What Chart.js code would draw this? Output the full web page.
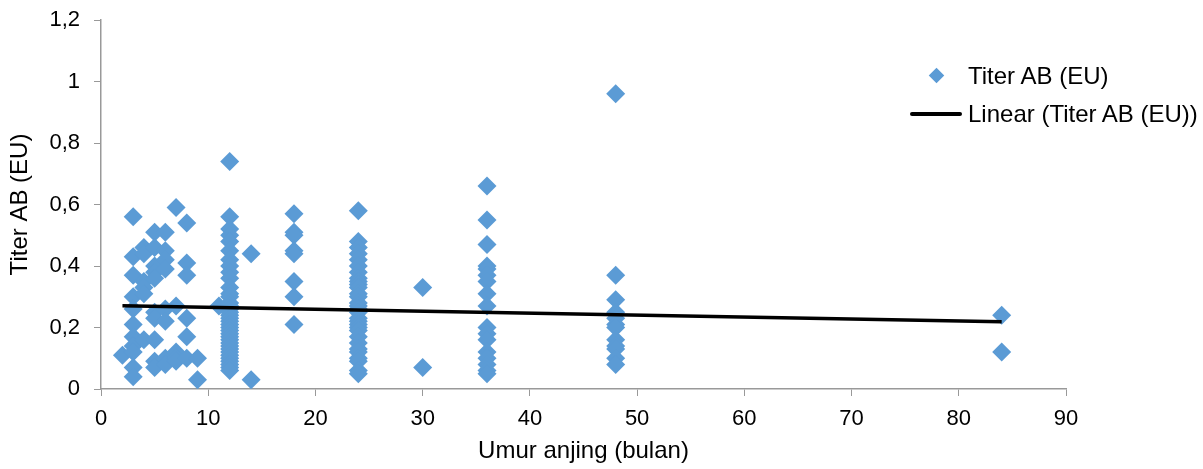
<!DOCTYPE html>
<html>
<head>
<meta charset="utf-8">
<script src="https://cdn.jsdelivr.net/npm/chart.js@4.4.1/dist/chart.umd.min.js"></script>
<style>
  html, body { margin: 0; padding: 0; background: #fff; }
  #wrap { position: relative; width: 1203px; height: 469px; }
  .legend { position: absolute; left: 905px; top: 57px; font-family: "Liberation Sans", Arial, sans-serif; font-size: 24px; color: #000; }
  .legend .row { position: relative; height: 38px; line-height: 38px; padding-left: 63px; white-space: nowrap; }
  .legend .diamond { position: absolute; left: 26px; top: 13px; width: 11px; height: 11px; background: #5B9BD5; transform: rotate(45deg); }
  .legend .line { position: absolute; left: 5px; top: 17px; width: 52px; height: 4px; background: #000; border-radius: 2px; }
</style>
</head>
<body>
<div id="wrap">
  <canvas id="titerChart" width="1203" height="469"></canvas>
  <div class="legend">
    <div class="row"><span class="diamond"></span>Titer AB (EU)</div>
    <div class="row"><span class="line"></span>Linear (Titer AB (EU))</div>
  </div>
</div>
<script>
// umur anjing (bulan) dan titer antibodi per kelompok umur
const ageGroups = [2, 3, 4, 5, 6, 7, 8, 9, 11, 12, 14, 18, 24, 30, 36, 48, 84];
const titerByAge = [
  [0.11],
  [0.56, 0.43, 0.37, 0.30, 0.26, 0.21, 0.17, 0.14, 0.12, 0.07, 0.04],
  [0.46, 0.44, 0.35, 0.33, 0.31, 0.16],
  [0.51, 0.46, 0.40, 0.38, 0.36, 0.25, 0.23, 0.16, 0.09, 0.07],
  [0.51, 0.45, 0.42, 0.39, 0.26, 0.22, 0.10, 0.08],
  [0.59, 0.27, 0.12, 0.10, 0.09],
  [0.54, 0.41, 0.37, 0.23, 0.17, 0.10],
  [0.10, 0.03],
  [0.27],
  [0.74, 0.56, 0.52, 0.50, 0.48, 0.45, 0.42, 0.40, 0.38, 0.36, 0.33, 0.31, 0.30, 0.28, 0.27, 0.26,
   0.25, 0.24, 0.23, 0.22, 0.21, 0.20, 0.19, 0.18, 0.17, 0.16, 0.15, 0.14, 0.13, 0.12, 0.11, 0.10,
   0.09, 0.08, 0.07, 0.06],
  [0.44, 0.03],
  [0.57, 0.51, 0.50, 0.45, 0.44, 0.35, 0.30, 0.21],
  [0.58, 0.48, 0.46, 0.44, 0.42, 0.40, 0.38, 0.36, 0.35, 0.34, 0.33, 0.31, 0.30, 0.28, 0.27, 0.26,
   0.25, 0.23, 0.22, 0.21, 0.20, 0.19, 0.17, 0.15, 0.13, 0.12, 0.10, 0.09, 0.06, 0.05],
  [0.33, 0.07],
  [0.66, 0.55, 0.47, 0.40, 0.39, 0.37, 0.35, 0.31, 0.27, 0.20, 0.18, 0.16, 0.12, 0.10, 0.08, 0.06, 0.05],
  [0.96, 0.37, 0.29, 0.25, 0.23, 0.21, 0.20, 0.16, 0.14, 0.13, 0.10, 0.08],
  [0.24, 0.12]
];
// garis tren linear
const trendAge = [2, 84];
const trendTiter = [0.271, 0.219];

const scatterPoints = [];
ageGroups.forEach((age, i) => {
  titerByAge[i].forEach(v => scatterPoints.push({ x: age, y: v }));
});
const trendPoints = trendAge.map((a, i) => ({ x: a, y: trendTiter[i] }));

const axisGray = '#999999';
const tickFont = { family: '"Liberation Sans", Arial, sans-serif', size: 22 };
const titleFont = { family: '"Liberation Sans", Arial, sans-serif', size: 24 };

const ctx = document.getElementById('titerChart').getContext('2d');
new Chart(ctx, {
  type: 'scatter',
  data: {
    datasets: [
      {
        label: 'Linear (Titer AB (EU))',
        type: 'line',
        data: trendPoints,
        borderColor: '#000',
        borderWidth: 3.5,
        pointRadius: 0,
        fill: false,
        order: 0
      },
      {
        label: 'Titer AB (EU)',
        data: scatterPoints,
        pointStyle: 'rectRot',
        pointRadius: 9.5,
        pointHoverRadius: 9.5,
        backgroundColor: '#5B9BD5',
        borderWidth: 0,
        order: 1
      }
    ]
  },
  options: {
    responsive: false,
    animation: false,
    events: [],
    layout: { padding: { top: 20, right: 137, bottom: 0, left: 0 } },
    plugins: { legend: { display: false }, tooltip: { enabled: false } },
    scales: {
      x: {
        type: 'linear',
        min: 0,
        max: 90,
        ticks: { stepSize: 10, color: '#000', font: tickFont, padding: 10, maxRotation: 0 },
        grid: { drawOnChartArea: false, drawTicks: true, tickLength: 7, color: axisGray },
        border: { display: true, color: axisGray, width: 1.5 },
        title: { display: true, text: 'Umur anjing (bulan)', color: '#000', font: titleFont, padding: { top: 0, bottom: 3 } },
        afterFit: s => { s.height = 80; s.paddingLeft = 0; s.paddingRight = 0; }
      },
      y: {
        min: 0,
        max: 1.2,
        ticks: {
          stepSize: 0.2,
          color: '#000',
          font: tickFont,
          padding: 14,
          callback: v => String(Number(v.toFixed(1))).replace('.', ',')
        },
        grid: { drawOnChartArea: false, drawTicks: true, tickLength: 7, color: axisGray },
        border: { display: true, color: axisGray, width: 1.5 },
        title: { display: true, text: 'Titer AB (EU)', color: '#000', font: titleFont, padding: { top: 6, bottom: 0 } },
        afterFit: s => { s.width = 101; s.paddingTop = 0; s.paddingBottom = 0; }
      }
    }
  }
});
</script>
</body>
</html>
